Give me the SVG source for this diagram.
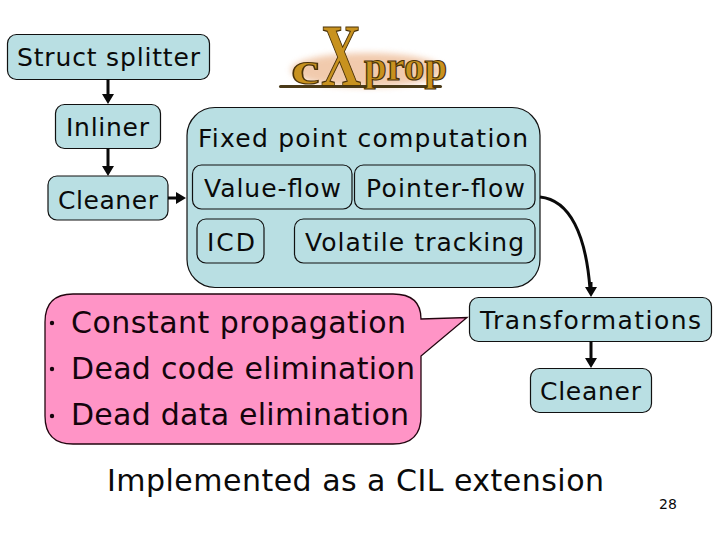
<svg xmlns="http://www.w3.org/2000/svg" width="720" height="540" viewBox="0 0 720 540">
<defs>
<style>
text{font-family:"DejaVu Sans","Liberation Sans",sans-serif;fill:#0a0a0a}
.b{fill:#b9dfe3;stroke:#111;stroke-width:1.2}
.n{font-size:25px}
.c{font-size:30px;fill:#14040c}
.l{fill:none;stroke:#0a0a0a;stroke-width:3}
.h{fill:#0a0a0a;stroke:none}
.logo{font-family:"Liberation Serif",serif;font-weight:bold;fill:#c8921f;stroke:#4a3208;stroke-width:1.2}
</style>
<filter id="glow" x="-20%" y="-30%" width="140%" height="160%"><feGaussianBlur stdDeviation="3"/></filter>
</defs>
<rect width="720" height="540" fill="#fff"/>
<g id="fixed-box"><rect class="b" x="187" y="107.500" width="353" height="180" rx="28"/><text class="n" x="198" y="147" textLength="330" lengthAdjust="spacing">Fixed point computation</text></g>
<g id="struct-splitter"><rect class="b" x="7.500" y="34.500" width="202" height="45" rx="9"/><text class="n" x="17" y="66" textLength="183" lengthAdjust="spacing">Struct splitter</text></g>
<g id="inliner"><rect class="b" x="55.500" y="104.500" width="105" height="44" rx="9"/><text class="n" x="66" y="136" textLength="83" lengthAdjust="spacing">Inliner</text></g>
<g id="cleaner-1"><rect class="b" x="48" y="176" width="120" height="44" rx="9"/><text class="n" x="58" y="209" textLength="100" lengthAdjust="spacing">Cleaner</text></g>
<g id="value-flow"><rect class="b" x="192.500" y="165" width="159.500" height="44" rx="9"/><text class="n" x="204" y="197" textLength="137" lengthAdjust="spacing">Value-flow</text></g>
<g id="pointer-flow"><rect class="b" x="354.500" y="165" width="180.500" height="44" rx="9"/><text class="n" x="366" y="197" textLength="159" lengthAdjust="spacing">Pointer-flow</text></g>
<g id="icd"><rect class="b" x="197" y="219" width="67" height="44" rx="9"/><text class="n" x="207" y="251" textLength="48" lengthAdjust="spacing">ICD</text></g>
<g id="volatile-tracking"><rect class="b" x="294.500" y="219" width="240.500" height="44" rx="9"/><text class="n" x="305" y="251" textLength="219" lengthAdjust="spacing">Volatile tracking</text></g>
<g id="callout"><path d="M73 294H393Q421 294 421 319L467 317.500L421 356V416Q421 444 393 444H73Q45 444 45 416V322Q45 294 73 294Z" fill="#ff94c6" stroke="#22050f" stroke-width="1.300"/>
<circle cx="52" cy="323" r="2.200" fill="#14040c"/><circle cx="52" cy="369" r="2.200" fill="#14040c"/><circle cx="52" cy="416" r="2.200" fill="#14040c"/>
<text class="c" x="71" y="333" textLength="335" lengthAdjust="spacing">Constant propagation</text>
<text class="c" x="71" y="379" textLength="344" lengthAdjust="spacing">Dead code elimination</text>
<text class="c" x="71" y="425" textLength="338" lengthAdjust="spacing">Dead data elimination</text></g>
<g id="transformations"><rect class="b" x="469.500" y="297.500" width="242" height="44" rx="9"/><text class="n" x="480" y="329" textLength="221" lengthAdjust="spacing">Transformations</text></g>
<g id="cleaner-2"><rect class="b" x="530.500" y="368.500" width="121" height="44" rx="9"/><text class="n" x="540" y="400" textLength="101" lengthAdjust="spacing">Cleaner</text></g>
<g id="logo"><ellipse cx="367" cy="70" rx="76" ry="17" fill="#e8a878" opacity=".6" filter="url(#glow)"/>
<rect x="279" y="85" width="163" height="3" rx="1.500" fill="#4a3a18"/>
<text class="logo" transform="translate(291 84) scale(1.400 1)" font-size="46">c</text>
<text class="logo" transform="translate(321 85) scale(.630 1)" font-size="88">X</text>
<text class="logo" transform="translate(364 80) scale(1.020 1)" font-size="40">prop</text></g>
<g id="connectors">
<path class="l" d="M108 79V96M108 148.500V166M168 198H177M591 341V360M591 282V289M540 197C570 200 586 235 590 289"/>
<path class="h" d="M102 94H114L108 104ZM102 166H114L108 176ZM176 192V204L186 198ZM585 358H597L591 368ZM585 287H597L591 297Z"/>
</g>
<text id="caption" x="107" y="491" font-size="30" textLength="497" lengthAdjust="spacing">Implemented as a CIL extension</text>
<text id="page" x="659" y="509" font-size="14" textLength="18">28</text>
</svg>
